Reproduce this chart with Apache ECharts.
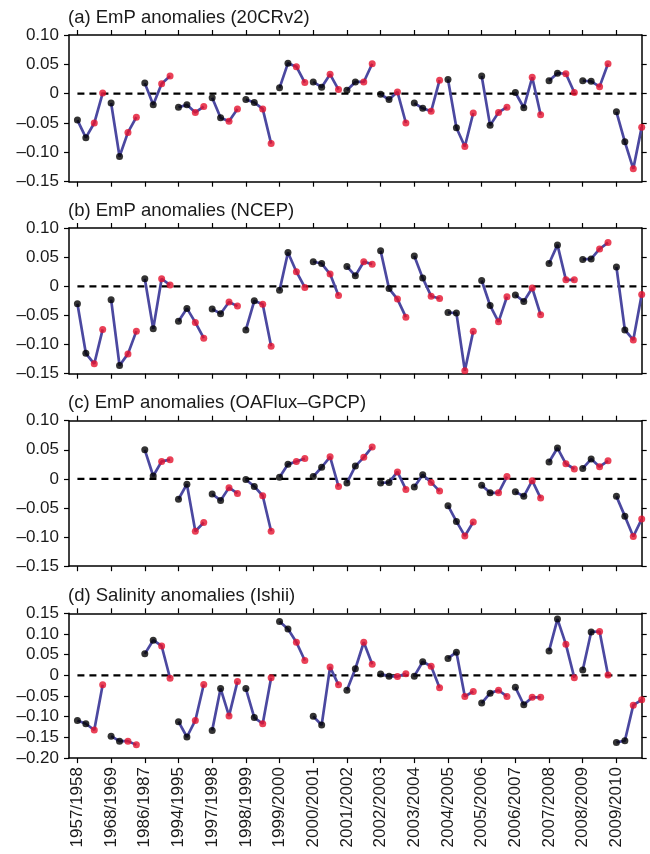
<!DOCTYPE html>
<html>
<head>
<meta charset="utf-8">
<script src="https://cdn.jsdelivr.net/npm/echarts@6/dist/echarts.min.js"></script>
<style>
html,body{margin:0;padding:0;background:#fff;}
#chart{width:650px;height:854px;}
</style>
</head>
<body>
<div id="chart"></div>
<script>
// Winter labels (one per group of 4 points)
const categories = ['1957/1958','1968/1969','1986/1987','1994/1995','1997/1998','1998/1999','1999/2000','2000/2001','2001/2002','2002/2003','2003/2004','2004/2005','2005/2006','2006/2007','2007/2008','2008/2009','2009/2010'];

// (a) EmP anomalies (20CRv2) - 4 points per winter
const emp20CR = [
  -0.045,-0.075,-0.050, 0.001,
  -0.016,-0.107,-0.066,-0.040,
   0.018,-0.019, 0.017, 0.030,
  -0.023,-0.019,-0.032,-0.022,
  -0.007,-0.041,-0.047,-0.026,
  -0.010,-0.015,-0.026,-0.085,
   0.010, 0.052, 0.046, 0.019,
   0.020, 0.011, 0.033, 0.007,
   0.006, 0.020, 0.020, 0.051,
  -0.001,-0.010, 0.003,-0.050,
  -0.016,-0.025,-0.030, 0.023,
   0.024,-0.058,-0.090,-0.033,
   0.030,-0.054,-0.032,-0.023,
   0.002,-0.024, 0.028,-0.036,
   0.022, 0.035, 0.034, 0.002,
   0.022, 0.021, 0.012, 0.051,
  -0.031,-0.082,-0.128,-0.057
];

// (b) EmP anomalies (NCEP)
const empNCEP = [
  -0.030,-0.115,-0.133,-0.074,
  -0.023,-0.136,-0.116,-0.077,
   0.013,-0.073, 0.013, 0.002,
  -0.060,-0.038,-0.062,-0.089,
  -0.039,-0.047,-0.027,-0.034,
  -0.075,-0.025,-0.031,-0.103,
  -0.007, 0.058, 0.025,-0.002,
   0.042, 0.039, 0.021,-0.016,
   0.034, 0.018, 0.042, 0.038,
   0.061,-0.004,-0.022,-0.053,
   0.052, 0.014,-0.017,-0.021,
  -0.045,-0.046,-0.145,-0.077,
   0.010,-0.033,-0.061,-0.018,
  -0.015,-0.026,-0.003,-0.049,
   0.039, 0.071, 0.011, 0.011,
   0.046, 0.047, 0.064, 0.075,
   0.033,-0.075,-0.092,-0.014
];

// (c) EmP anomalies (OAFlux-GPCP) - no data for first two winters
const empOAFlux = [
   null, null, null, null,
   null, null, null, null,
   0.050, 0.005, 0.030, 0.033,
  -0.035,-0.009,-0.090,-0.075,
  -0.026,-0.037,-0.015,-0.025,
  -0.001,-0.013,-0.029,-0.090,
   0.003, 0.025, 0.030, 0.035,
   0.004, 0.020, 0.038,-0.013,
  -0.007, 0.022, 0.037, 0.055,
  -0.007,-0.006, 0.012,-0.018,
  -0.014, 0.007,-0.006,-0.021,
  -0.046,-0.073,-0.098,-0.074,
  -0.011,-0.024,-0.024, 0.004,
  -0.022,-0.030,-0.003,-0.033,
   0.029, 0.053, 0.026, 0.017,
   0.018, 0.034, 0.021, 0.031,
  -0.030,-0.064,-0.099,-0.069
];

// (d) Salinity anomalies (Ishii)
const salIshii = [
  -0.109,-0.117,-0.132,-0.023,
  -0.147,-0.159,-0.159,-0.168,
   0.052, 0.085, 0.071,-0.007,
  -0.112,-0.149,-0.109,-0.022,
  -0.133,-0.032,-0.098,-0.015,
  -0.032,-0.102,-0.117,-0.006,
   0.130, 0.112, 0.080, 0.036,
  -0.099,-0.120, 0.020,-0.023,
  -0.036, 0.016, 0.080, 0.027,
   0.003,-0.002,-0.003, 0.004,
  -0.002, 0.033, 0.022,-0.030,
   0.041, 0.056,-0.051,-0.039,
  -0.067,-0.043,-0.036,-0.051,
  -0.029,-0.071,-0.053,-0.053,
   0.059, 0.136, 0.075,-0.006,
   0.013, 0.105, 0.106, 0.001,
  -0.162,-0.158,-0.072,-0.059
];

const titles = ['(a) EmP anomalies (20CRv2)','(b) EmP anomalies (NCEP)','(c) EmP anomalies (OAFlux\u2013GPCP)','(d) Salinity anomalies (Ishii)'];
const panelData = [emp20CR, empNCEP, empOAFlux, salIshii];
const yMin = [-0.15,-0.15,-0.15,-0.20];
const yMax = [0.10,0.10,0.10,0.15];

const FONT = "'Liberation Sans', Arial, Helvetica, sans-serif";
const LINE = '#4b48a0', RED = '#e5112d', BLACK = '#000';
const nPer = 4;
const nPts = categories.length * nPer;
const tickVals = categories.map((c, i) => i * nPer);

const gridTops = [35, 228, 420.7, 613.3];
const gridBottoms = [181.7, 373.7, 566.2, 758.1];

const grids = [], xAxes = [], yAxes = [], series = [], titleComps = [];
const axisLineStyle = {color: BLACK, width: 1.5};

panelData.forEach((vals, p) => {
  grids.push({left: 69, right: 8.3, top: gridTops[p], height: gridBottoms[p] - gridTops[p], containLabel: false});
  titleComps.push({text: titles[p], left: 68, top: gridTops[p] - 27, padding: 0,
    textStyle: {fontFamily: FONT, fontSize: 18.5, fontWeight: 'normal', color: '#1a1a1a'}});
  ['bottom', 'top'].forEach(pos => {
    xAxes.push({
      gridIndex: p, type: 'value', position: pos, min: -1, max: nPts - 1,
      axisLine: {show: true, onZero: false, lineStyle: axisLineStyle},
      axisTick: {show: true, inside: false, length: 5, customValues: tickVals, lineStyle: {color: BLACK, width: 1.2}},
      axisLabel: {show: pos === 'bottom' && p === 3, customValues: tickVals, rotate: 90, margin: 9,
        fontFamily: FONT, fontSize: 17, color: '#1a1a1a',
        formatter: v => categories[Math.round(v / nPer)] || ''},
      splitLine: {show: false}
    });
  });
  ['left', 'right'].forEach(pos => {
    yAxes.push({
      gridIndex: p, type: 'value', position: pos, min: yMin[p], max: yMax[p], interval: 0.05,
      axisLine: {show: true, onZero: false, lineStyle: axisLineStyle},
      axisTick: {show: true, inside: false, length: 5, lineStyle: {color: BLACK, width: 1.2}},
      axisLabel: {show: pos === 'left', margin: 10, fontFamily: FONT, fontSize: 17, color: '#1a1a1a',
        formatter: v => Math.abs(v) < 1e-9 ? '0' : (v < 0 ? '\u2013' : '') + Math.abs(v).toFixed(2)},
      splitLine: {show: false}
    });
  });
  const xi = p * 2, yi = p * 2;
  // zero reference line
  series.push({type: 'line', xAxisIndex: xi, yAxisIndex: yi, data: [[0, 0], [nPts - 1, 0]],
    symbol: 'none', silent: true, z: 1,
    lineStyle: {color: BLACK, width: 2.2, type: [7, 5]}});
  // connected line for each winter
  const lineData = [], blackPts = [], redPts = [];
  vals.forEach((v, i) => {
    if (v !== null) {
      lineData.push([i, v]);
      (i % nPer < 2 ? blackPts : redPts).push([i, v]);
    } else {
      lineData.push([i, '-']);
    }
    if (i % nPer === nPer - 1) lineData.push([i + 0.5, '-']);
  });
  series.push({type: 'line', xAxisIndex: xi, yAxisIndex: yi, data: lineData, symbol: 'none',
    connectNulls: false, z: 2, lineStyle: {color: LINE, width: 2.7}});
  series.push({type: 'scatter', xAxisIndex: xi, yAxisIndex: yi, data: blackPts, symbolSize: 7, z: 3,
    itemStyle: {color: BLACK}});
  series.push({type: 'scatter', xAxisIndex: xi, yAxisIndex: yi, data: redPts, symbolSize: 7, z: 3,
    itemStyle: {color: RED}});
});

const chart = echarts.init(document.getElementById('chart'), null, {renderer: 'canvas'});
chart.setOption({
  animation: false,
  backgroundColor: '#fff',
  title: titleComps,
  grid: grids,
  xAxis: xAxes,
  yAxis: yAxes,
  series: series
});
</script>
</body>
</html>
